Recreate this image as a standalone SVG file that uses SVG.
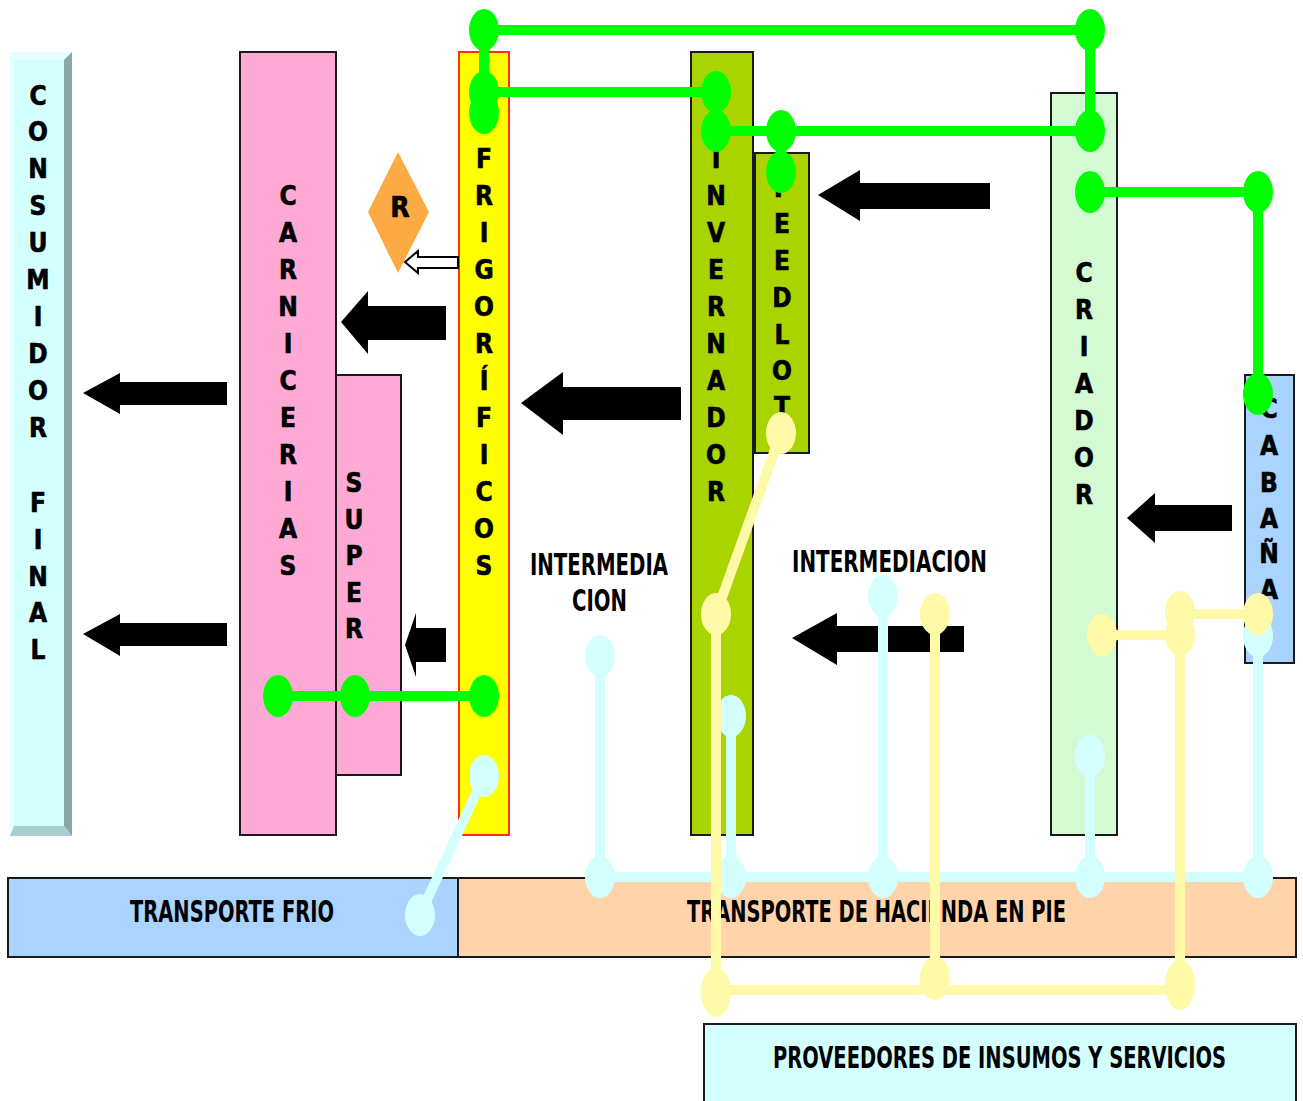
<svg xmlns="http://www.w3.org/2000/svg" width="1303" height="1101" viewBox="0 0 1303 1101">
<style>
.v{font-family:"DejaVu Sans Condensed","DejaVu Sans",sans-serif;font-weight:bold;font-size:26px;text-anchor:middle;fill:#000;stroke:#000;stroke-width:0.6}
.h{font-family:"DejaVu Sans Condensed","DejaVu Sans",sans-serif;font-weight:bold;font-size:31px;fill:#000}
.box{stroke:#1a1a1a;stroke-width:2}
.arr{fill:#000}
.g{stroke:#00ff00;stroke-width:10;fill:none}
.gd{fill:#00ff00}
.y{stroke:#fffaa8;stroke-width:10;fill:none}
.yd{fill:#fffaa8}
.c{stroke:#d4ffff;stroke-width:10;fill:none}
.cd{fill:#d4ffff}
</style>
<rect width="1303" height="1101" fill="#fff"/>
<g id="consumidor">
<rect x="10" y="52" width="62" height="784" fill="#d4ffff"/>
<polygon points="10,52 72,52 64,60 14,60" fill="#e6ffff"/>
<polygon points="10,52 14,60 14,826 10,836" fill="#e6ffff"/>
<polygon points="72,52 72,836 64,826 64,60" fill="#88a8a8"/>
<polygon points="10,836 72,836 64,826 14,826" fill="#a8d0d0"/>
<text class="v"><tspan x="38" y="105">C</tspan><tspan x="38" y="141">O</tspan><tspan x="38" y="178">N</tspan><tspan x="38" y="215">S</tspan><tspan x="38" y="252">U</tspan><tspan x="38" y="289">M</tspan><tspan x="38" y="326">I</tspan><tspan x="38" y="363">D</tspan><tspan x="38" y="400">O</tspan><tspan x="38" y="437">R</tspan><tspan x="38" y="512">F</tspan><tspan x="38" y="549">I</tspan><tspan x="38" y="586">N</tspan><tspan x="38" y="622">A</tspan><tspan x="38" y="659">L</tspan></text>
</g>
<g id="carnicerias">
<rect class="box" x="240" y="52" width="96" height="783" fill="#ffaad4"/>
<text class="v"><tspan x="288" y="205">C</tspan><tspan x="288" y="242">A</tspan><tspan x="288" y="279">R</tspan><tspan x="288" y="316">N</tspan><tspan x="288" y="353">I</tspan><tspan x="288" y="390">C</tspan><tspan x="288" y="427">E</tspan><tspan x="288" y="464">R</tspan><tspan x="288" y="501">I</tspan><tspan x="288" y="538">A</tspan><tspan x="288" y="575">S</tspan></text>
</g>
<g id="super">
<rect class="box" x="336" y="375" width="65" height="400" fill="#ffaad4"/>
<text class="v"><tspan x="354" y="492">S</tspan><tspan x="354" y="529">U</tspan><tspan x="354" y="565">P</tspan><tspan x="354" y="602">E</tspan><tspan x="354" y="638">R</tspan></text>
</g>
<g id="r">
<polygon points="398,152 429,212 398,273 368,212" fill="#fbaa44"/>
<text class="v" x="400" y="217" style="font-size:28px">R</text>
</g>
<g id="frigorificos">
<rect x="459" y="52" width="50" height="783" fill="#ffff00" stroke="#ff3300" stroke-width="2"/>
<text class="v"><tspan x="484" y="168">F</tspan><tspan x="484" y="205">R</tspan><tspan x="484" y="242">I</tspan><tspan x="484" y="279">G</tspan><tspan x="484" y="316">O</tspan><tspan x="484" y="353">R</tspan><tspan x="484" y="390">Í</tspan><tspan x="484" y="427">F</tspan><tspan x="484" y="464">I</tspan><tspan x="484" y="501">C</tspan><tspan x="484" y="538">O</tspan><tspan x="484" y="575">S</tspan></text>
</g>
<g id="invernador">
<rect class="box" x="691" y="52" width="62" height="783" fill="#aad400"/>
<text class="v"><tspan x="716" y="168">I</tspan><tspan x="716" y="205">N</tspan><tspan x="716" y="242">V</tspan><tspan x="716" y="279">E</tspan><tspan x="716" y="316">R</tspan><tspan x="716" y="353">N</tspan><tspan x="716" y="390">A</tspan><tspan x="716" y="427">D</tspan><tspan x="716" y="464">O</tspan><tspan x="716" y="501">R</tspan></text>
</g>
<g id="feedlot">
<rect class="box" x="755" y="153" width="54" height="300" fill="#aad400"/>
<text class="v"><tspan x="782" y="197">F</tspan><tspan x="782" y="233">E</tspan><tspan x="782" y="270">E</tspan><tspan x="782" y="307">D</tspan><tspan x="782" y="344">L</tspan><tspan x="782" y="380">O</tspan><tspan x="782" y="416">T</tspan></text>
</g>
<g id="criador">
<rect class="box" x="1051" y="93" width="66" height="742" fill="#d4fad4"/>
<text class="v"><tspan x="1084" y="282">C</tspan><tspan x="1084" y="319">R</tspan><tspan x="1084" y="356">I</tspan><tspan x="1084" y="393">A</tspan><tspan x="1084" y="430">D</tspan><tspan x="1084" y="467">O</tspan><tspan x="1084" y="504">R</tspan></text>
</g>
<g id="cabana">
<rect class="box" x="1245" y="375" width="49" height="288" fill="#aad4ff"/>
<text class="v"><tspan x="1269" y="418">C</tspan><tspan x="1269" y="455">A</tspan><tspan x="1269" y="492">B</tspan><tspan x="1269" y="528">A</tspan><tspan x="1269" y="563">Ñ</tspan><tspan x="1269" y="599">A</tspan></text>
</g>
<g id="transporte-frio">
<rect class="box" x="8" y="878" width="450" height="79" fill="#aad4ff"/>
<text class="h" x="130" y="922" textLength="204" lengthAdjust="spacingAndGlyphs">TRANSPORTE FRIO</text>
</g>
<g id="transporte-hacienda">
<rect class="box" x="458" y="878" width="838" height="79" fill="#ffd4aa"/>
<text class="h" x="687" y="922" textLength="379" lengthAdjust="spacingAndGlyphs">TRANSPORTE DE HACIENDA EN PIE</text>
</g>
<g id="proveedores">
<rect class="box" x="704" y="1024" width="592" height="78" fill="#d4ffff"/>
<text class="h" x="773" y="1068" textLength="453" lengthAdjust="spacingAndGlyphs">PROVEEDORES DE INSUMOS Y SERVICIOS</text>
</g>
<g id="intermediacion-1">
<text class="h" x="530" y="575" textLength="138" lengthAdjust="spacingAndGlyphs">INTERMEDIA</text>
<text class="h" x="572" y="611" textLength="55" lengthAdjust="spacingAndGlyphs">CION</text>
</g>
<g id="intermediacion-2">
<text class="h" x="792" y="572" textLength="195" lengthAdjust="spacingAndGlyphs">INTERMEDIACION</text>
</g>
<g id="connectors">
<g id="flow-arrows">
<polygon class="arr" points="818,195 860,170 860,183 990,183 990,209 860,209 860,221"/>
<polygon class="arr" points="341,322 368,291 368,306 446,306 446,340 368,340 368,354"/>
<polygon class="arr" points="521,403 563,372 563,387 681,387 681,420 563,420 563,435"/>
<polygon class="arr" points="83,393 120,373 120,382 227,382 227,405 120,405 120,414"/>
<polygon class="arr" points="83,634 120,614 120,623 227,623 227,646 120,646 120,656"/>
<polygon class="arr" points="405,645 416,613 416,628 446,628 446,662 416,662 416,677"/>
<polygon class="arr" points="1127,518 1155,493 1155,505 1232,505 1232,531 1155,531 1155,543"/>
<polygon class="arr" points="792,638 837,613 837,626 964,626 964,652 837,652 837,665"/>
<polygon points="405,262 418,251 418,257 458,257 458,268 418,268 418,273" fill="#fff" stroke="#000" stroke-width="2"/>
</g>
<g id="cyan-links">
<path class="c" d="M484,776 L420,915 M600,656 V877 M600,877 H1258 M731,716 V877 M883,596 V877 M1090,756 V877 M1258,636 V877"/>
<ellipse class="cd" cx="484" cy="776" rx="15" ry="21"/>
<ellipse class="cd" cx="420" cy="915" rx="15" ry="21"/>
<ellipse class="cd" cx="600" cy="656" rx="15" ry="21"/>
<ellipse class="cd" cx="600" cy="877" rx="15" ry="21"/>
<ellipse class="cd" cx="731" cy="716" rx="15" ry="21"/>
<ellipse class="cd" cx="731" cy="877" rx="15" ry="21"/>
<ellipse class="cd" cx="883" cy="596" rx="15" ry="21"/>
<ellipse class="cd" cx="883" cy="877" rx="15" ry="21"/>
<ellipse class="cd" cx="1090" cy="756" rx="15" ry="21"/>
<ellipse class="cd" cx="1090" cy="877" rx="15" ry="21"/>
<ellipse class="cd" cx="1258" cy="636" rx="15" ry="21"/>
<ellipse class="cd" cx="1258" cy="877" rx="15" ry="21"/>
</g>
<g id="yellow-links">
<path class="y" d="M781,433 L716,614 V992 M716,990 H1180 M935,614 V978 M1180,612 V985 M1102,635 H1180 M1180,614 H1258"/>
<ellipse class="yd" cx="781" cy="433" rx="15" ry="21"/>
<ellipse class="yd" cx="716" cy="614" rx="15" ry="21"/>
<ellipse class="yd" cx="716" cy="992" rx="15" ry="25"/>
<ellipse class="yd" cx="935" cy="614" rx="15" ry="21"/>
<ellipse class="yd" cx="935" cy="978" rx="15" ry="22"/>
<ellipse class="yd" cx="1180" cy="985" rx="15" ry="25"/>
<ellipse class="yd" cx="1180" cy="612" rx="15" ry="21"/>
<ellipse class="yd" cx="1180" cy="635" rx="15" ry="21"/>
<ellipse class="yd" cx="1102" cy="635" rx="15" ry="21"/>
<ellipse class="yd" cx="1258" cy="614" rx="15" ry="21"/>
</g>
<g id="green-links">
<path class="g" d="M484,30 H1090 V131 M484,30 V112 M484,92 H716 M716,131 H1090 M781,131 V172 M1090,192 H1258 V394 M278,696 H484"/>
<ellipse class="gd" cx="484" cy="30" rx="15" ry="21"/>
<ellipse class="gd" cx="1090" cy="30" rx="15" ry="21"/>
<ellipse class="gd" cx="484" cy="92" rx="15" ry="21"/>
<ellipse class="gd" cx="484" cy="113" rx="15" ry="21"/>
<ellipse class="gd" cx="716" cy="92" rx="15" ry="21"/>
<ellipse class="gd" cx="716" cy="131" rx="15" ry="21"/>
<ellipse class="gd" cx="781" cy="131" rx="15" ry="21"/>
<ellipse class="gd" cx="781" cy="172" rx="15" ry="21"/>
<ellipse class="gd" cx="1090" cy="131" rx="15" ry="21"/>
<ellipse class="gd" cx="1090" cy="192" rx="15" ry="21"/>
<ellipse class="gd" cx="1258" cy="192" rx="15" ry="21"/>
<ellipse class="gd" cx="1258" cy="394" rx="15" ry="21"/>
<ellipse class="gd" cx="278" cy="696" rx="15" ry="21"/>
<ellipse class="gd" cx="355" cy="696" rx="15" ry="21"/>
<ellipse class="gd" cx="484" cy="696" rx="15" ry="21"/>
</g>
</g>
</svg>
